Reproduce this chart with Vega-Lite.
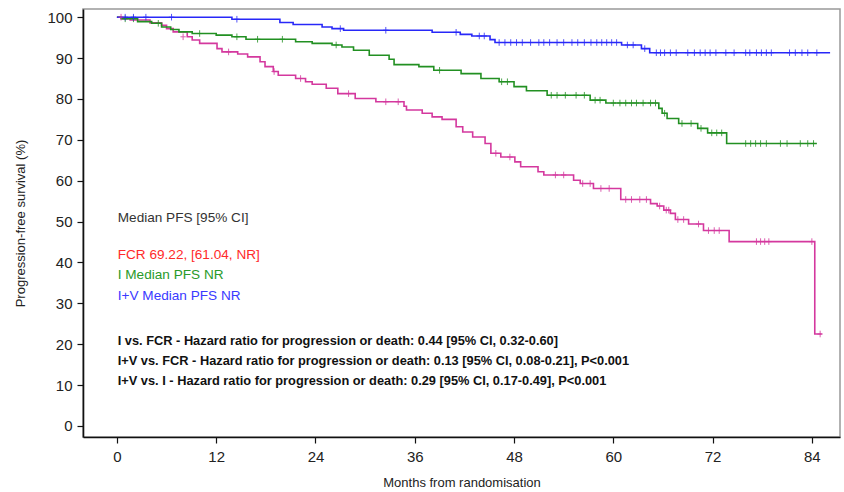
{
  "$schema": "https://vega.github.io/schema/vega-lite/v6.json",
  "width": 757,
  "height": 428,
  "autosize": {"type": "none"},
  "padding": {"left": 83, "top": 9, "right": 4, "bottom": 55},
  "config": {
    "font": "Liberation Sans",
    "view": {"stroke": "#999999", "strokeWidth": 1.5},
    "axis": {
      "domainColor": "#111111", "domainWidth": 1.6,
      "tickColor": "#111111", "tickWidth": 1.2, "tickSize": 6,
      "labelColor": "#222222", "labelFont": "Liberation Sans", "labelFontSize": 15,
      "titleFont": "Liberation Sans", "titleFontSize": 13, "titleFontWeight": "normal", "titleColor": "#222222",
      "grid": false
    }
  },
  "datasets": {
    "curves": [
      {"arm": "FCR", "month": 0, "pct": 100},
      {"arm": "FCR", "month": 0.6, "pct": 99.6},
      {"arm": "FCR", "month": 1.6, "pct": 99.3},
      {"arm": "FCR", "month": 4.0, "pct": 98.6},
      {"arm": "FCR", "month": 5.4, "pct": 98.0},
      {"arm": "FCR", "month": 6.0, "pct": 97.2},
      {"arm": "FCR", "month": 6.8, "pct": 96.4},
      {"arm": "FCR", "month": 8.5, "pct": 95.2},
      {"arm": "FCR", "month": 9.1, "pct": 94.4},
      {"arm": "FCR", "month": 10.0, "pct": 93.6},
      {"arm": "FCR", "month": 12.1, "pct": 92.3},
      {"arm": "FCR", "month": 12.7, "pct": 91.5},
      {"arm": "FCR", "month": 14.6, "pct": 91.0},
      {"arm": "FCR", "month": 15.8, "pct": 90.3},
      {"arm": "FCR", "month": 17.3, "pct": 89.1},
      {"arm": "FCR", "month": 17.9, "pct": 87.9},
      {"arm": "FCR", "month": 18.9, "pct": 86.7},
      {"arm": "FCR", "month": 19.5, "pct": 85.8},
      {"arm": "FCR", "month": 21.6, "pct": 85.0},
      {"arm": "FCR", "month": 22.8, "pct": 84.2},
      {"arm": "FCR", "month": 23.6, "pct": 83.6},
      {"arm": "FCR", "month": 25.3, "pct": 82.6},
      {"arm": "FCR", "month": 26.7, "pct": 81.3},
      {"arm": "FCR", "month": 28.8, "pct": 80.1},
      {"arm": "FCR", "month": 31.3, "pct": 79.3},
      {"arm": "FCR", "month": 34.7, "pct": 78.2},
      {"arm": "FCR", "month": 35.0, "pct": 77.3},
      {"arm": "FCR", "month": 36.9, "pct": 76.5},
      {"arm": "FCR", "month": 38.1, "pct": 75.6},
      {"arm": "FCR", "month": 39.3, "pct": 75.0},
      {"arm": "FCR", "month": 41.0, "pct": 73.2},
      {"arm": "FCR", "month": 41.8, "pct": 71.9},
      {"arm": "FCR", "month": 43.0, "pct": 70.7},
      {"arm": "FCR", "month": 44.5, "pct": 69.1},
      {"arm": "FCR", "month": 45.2, "pct": 66.7},
      {"arm": "FCR", "month": 46.4, "pct": 65.8},
      {"arm": "FCR", "month": 48.1, "pct": 64.6},
      {"arm": "FCR", "month": 48.8, "pct": 63.4},
      {"arm": "FCR", "month": 50.9, "pct": 62.2},
      {"arm": "FCR", "month": 51.6, "pct": 61.4},
      {"arm": "FCR", "month": 55.2, "pct": 60.1},
      {"arm": "FCR", "month": 56.0, "pct": 59.3},
      {"arm": "FCR", "month": 57.6, "pct": 58.1},
      {"arm": "FCR", "month": 60.9, "pct": 55.4},
      {"arm": "FCR", "month": 64.5, "pct": 54.4},
      {"arm": "FCR", "month": 65.3, "pct": 53.8},
      {"arm": "FCR", "month": 66.1, "pct": 52.8},
      {"arm": "FCR", "month": 66.9, "pct": 52.0},
      {"arm": "FCR", "month": 67.5, "pct": 50.5},
      {"arm": "FCR", "month": 69.1, "pct": 49.4},
      {"arm": "FCR", "month": 70.9, "pct": 47.8},
      {"arm": "FCR", "month": 74.0, "pct": 45.1},
      {"arm": "FCR", "month": 84.35, "pct": 22.5},
      {"arm": "FCR", "month": 85.2, "pct": 22.5},
      {"arm": "I", "month": 0, "pct": 100},
      {"arm": "I", "month": 0.5, "pct": 99.6},
      {"arm": "I", "month": 2.5, "pct": 98.9},
      {"arm": "I", "month": 4.2, "pct": 98.5},
      {"arm": "I", "month": 5.4, "pct": 97.6},
      {"arm": "I", "month": 6.5, "pct": 97.0},
      {"arm": "I", "month": 7.5, "pct": 96.4},
      {"arm": "I", "month": 9.1, "pct": 96.0},
      {"arm": "I", "month": 12.0, "pct": 95.6},
      {"arm": "I", "month": 13.9, "pct": 95.2},
      {"arm": "I", "month": 15.6, "pct": 94.6},
      {"arm": "I", "month": 21.6, "pct": 94.0},
      {"arm": "I", "month": 23.6, "pct": 93.6},
      {"arm": "I", "month": 26.0, "pct": 93.2},
      {"arm": "I", "month": 27.2, "pct": 92.7},
      {"arm": "I", "month": 28.6, "pct": 91.9},
      {"arm": "I", "month": 30.5, "pct": 90.7},
      {"arm": "I", "month": 32.9, "pct": 89.7},
      {"arm": "I", "month": 33.5, "pct": 88.4},
      {"arm": "I", "month": 36.5, "pct": 87.9},
      {"arm": "I", "month": 38.3, "pct": 87.0},
      {"arm": "I", "month": 41.6, "pct": 86.2},
      {"arm": "I", "month": 44.0, "pct": 85.0},
      {"arm": "I", "month": 46.2, "pct": 84.2},
      {"arm": "I", "month": 48.0, "pct": 83.0},
      {"arm": "I", "month": 49.5, "pct": 82.0},
      {"arm": "I", "month": 52.0, "pct": 80.9},
      {"arm": "I", "month": 57.2, "pct": 79.7},
      {"arm": "I", "month": 59.1, "pct": 79.0},
      {"arm": "I", "month": 65.5, "pct": 77.7},
      {"arm": "I", "month": 65.9, "pct": 76.5},
      {"arm": "I", "month": 66.5, "pct": 75.2},
      {"arm": "I", "month": 67.9, "pct": 74.0},
      {"arm": "I", "month": 70.2, "pct": 72.8},
      {"arm": "I", "month": 71.4, "pct": 71.7},
      {"arm": "I", "month": 73.7, "pct": 69.1},
      {"arm": "I", "month": 84.6, "pct": 69.1},
      {"arm": "I+V", "month": 0, "pct": 100},
      {"arm": "I+V", "month": 13.9, "pct": 99.5},
      {"arm": "I+V", "month": 19.7, "pct": 98.7},
      {"arm": "I+V", "month": 21.3, "pct": 98.2},
      {"arm": "I+V", "month": 24.8, "pct": 97.6},
      {"arm": "I+V", "month": 26.0, "pct": 97.2},
      {"arm": "I+V", "month": 27.4, "pct": 96.8},
      {"arm": "I+V", "month": 38.1, "pct": 96.3},
      {"arm": "I+V", "month": 41.5, "pct": 95.8},
      {"arm": "I+V", "month": 42.9, "pct": 95.4},
      {"arm": "I+V", "month": 45.1, "pct": 94.5},
      {"arm": "I+V", "month": 45.7, "pct": 93.8},
      {"arm": "I+V", "month": 61.0, "pct": 93.2},
      {"arm": "I+V", "month": 63.4, "pct": 92.3},
      {"arm": "I+V", "month": 64.4, "pct": 91.3},
      {"arm": "I+V", "month": 86.2, "pct": 91.3}
    ],
    "censor": [
      {"arm": "FCR", "month": 0.5, "pct": 100},
      {"arm": "FCR", "month": 8.0, "pct": 95.2},
      {"arm": "FCR", "month": 13.5, "pct": 91.5},
      {"arm": "FCR", "month": 19.0, "pct": 86.7},
      {"arm": "FCR", "month": 22.2, "pct": 85.0},
      {"arm": "FCR", "month": 28.0, "pct": 81.3},
      {"arm": "FCR", "month": 32.5, "pct": 79.3},
      {"arm": "FCR", "month": 34.0, "pct": 79.3},
      {"arm": "FCR", "month": 45.8, "pct": 66.7},
      {"arm": "FCR", "month": 47.5, "pct": 65.8},
      {"arm": "FCR", "month": 53.0, "pct": 61.4},
      {"arm": "FCR", "month": 54.0, "pct": 61.4},
      {"arm": "FCR", "month": 56.3, "pct": 59.3},
      {"arm": "FCR", "month": 57.2, "pct": 59.3},
      {"arm": "FCR", "month": 58.5, "pct": 58.1},
      {"arm": "FCR", "month": 59.5, "pct": 58.1},
      {"arm": "FCR", "month": 61.5, "pct": 55.4},
      {"arm": "FCR", "month": 62.2, "pct": 55.4},
      {"arm": "FCR", "month": 63.2, "pct": 55.4},
      {"arm": "FCR", "month": 64.0, "pct": 55.4},
      {"arm": "FCR", "month": 65.6, "pct": 53.8},
      {"arm": "FCR", "month": 66.4, "pct": 52.8},
      {"arm": "FCR", "month": 66.7, "pct": 52.8},
      {"arm": "FCR", "month": 67.8, "pct": 50.5},
      {"arm": "FCR", "month": 68.5, "pct": 50.5},
      {"arm": "FCR", "month": 70.3, "pct": 49.4},
      {"arm": "FCR", "month": 71.5, "pct": 47.8},
      {"arm": "FCR", "month": 72.2, "pct": 47.8},
      {"arm": "FCR", "month": 72.8, "pct": 47.8},
      {"arm": "FCR", "month": 77.3, "pct": 45.1},
      {"arm": "FCR", "month": 77.8, "pct": 45.1},
      {"arm": "FCR", "month": 78.3, "pct": 45.1},
      {"arm": "FCR", "month": 78.8, "pct": 45.1},
      {"arm": "FCR", "month": 84.0, "pct": 45.1},
      {"arm": "FCR", "month": 85.0, "pct": 22.5},
      {"arm": "I", "month": 1.0, "pct": 99.6},
      {"arm": "I", "month": 2.0, "pct": 99.6},
      {"arm": "I", "month": 5.0, "pct": 98.5},
      {"arm": "I", "month": 10.0, "pct": 96.0},
      {"arm": "I", "month": 14.5, "pct": 95.2},
      {"arm": "I", "month": 17.0, "pct": 94.6},
      {"arm": "I", "month": 20.0, "pct": 94.6},
      {"arm": "I", "month": 26.5, "pct": 93.2},
      {"arm": "I", "month": 39.0, "pct": 87.0},
      {"arm": "I", "month": 46.5, "pct": 84.2},
      {"arm": "I", "month": 47.2, "pct": 84.2},
      {"arm": "I", "month": 52.5, "pct": 80.9},
      {"arm": "I", "month": 53.2, "pct": 80.9},
      {"arm": "I", "month": 54.2, "pct": 80.9},
      {"arm": "I", "month": 55.5, "pct": 80.9},
      {"arm": "I", "month": 56.5, "pct": 80.9},
      {"arm": "I", "month": 57.8, "pct": 79.7},
      {"arm": "I", "month": 58.4, "pct": 79.7},
      {"arm": "I", "month": 60.0, "pct": 79.0},
      {"arm": "I", "month": 60.8, "pct": 79.0},
      {"arm": "I", "month": 61.5, "pct": 79.0},
      {"arm": "I", "month": 62.2, "pct": 79.0},
      {"arm": "I", "month": 62.8, "pct": 79.0},
      {"arm": "I", "month": 63.6, "pct": 79.0},
      {"arm": "I", "month": 64.5, "pct": 79.0},
      {"arm": "I", "month": 65.1, "pct": 79.0},
      {"arm": "I", "month": 66.2, "pct": 76.5},
      {"arm": "I", "month": 68.3, "pct": 74.0},
      {"arm": "I", "month": 69.4, "pct": 74.0},
      {"arm": "I", "month": 70.6, "pct": 72.8},
      {"arm": "I", "month": 71.9, "pct": 71.7},
      {"arm": "I", "month": 72.5, "pct": 71.7},
      {"arm": "I", "month": 73.1, "pct": 71.7},
      {"arm": "I", "month": 76.0, "pct": 69.1},
      {"arm": "I", "month": 76.6, "pct": 69.1},
      {"arm": "I", "month": 77.2, "pct": 69.1},
      {"arm": "I", "month": 77.8, "pct": 69.1},
      {"arm": "I", "month": 78.5, "pct": 69.1},
      {"arm": "I", "month": 80.2, "pct": 69.1},
      {"arm": "I", "month": 81.0, "pct": 69.1},
      {"arm": "I", "month": 82.6, "pct": 69.1},
      {"arm": "I", "month": 83.5, "pct": 69.1},
      {"arm": "I", "month": 84.2, "pct": 69.1},
      {"arm": "I+V", "month": 1.0, "pct": 100},
      {"arm": "I+V", "month": 2.0, "pct": 100},
      {"arm": "I+V", "month": 3.5, "pct": 100},
      {"arm": "I+V", "month": 6.6, "pct": 100},
      {"arm": "I+V", "month": 14.5, "pct": 99.5},
      {"arm": "I+V", "month": 27.0, "pct": 97.2},
      {"arm": "I+V", "month": 32.5, "pct": 96.8},
      {"arm": "I+V", "month": 41.0, "pct": 96.3},
      {"arm": "I+V", "month": 43.8, "pct": 95.4},
      {"arm": "I+V", "month": 44.4, "pct": 95.4},
      {"arm": "I+V", "month": 46.2, "pct": 93.8},
      {"arm": "I+V", "month": 46.9, "pct": 93.8},
      {"arm": "I+V", "month": 47.6, "pct": 93.8},
      {"arm": "I+V", "month": 48.3, "pct": 93.8},
      {"arm": "I+V", "month": 49.0, "pct": 93.8},
      {"arm": "I+V", "month": 50.0, "pct": 93.8},
      {"arm": "I+V", "month": 51.0, "pct": 93.8},
      {"arm": "I+V", "month": 51.6, "pct": 93.8},
      {"arm": "I+V", "month": 52.3, "pct": 93.8},
      {"arm": "I+V", "month": 53.2, "pct": 93.8},
      {"arm": "I+V", "month": 54.0, "pct": 93.8},
      {"arm": "I+V", "month": 55.0, "pct": 93.8},
      {"arm": "I+V", "month": 55.7, "pct": 93.8},
      {"arm": "I+V", "month": 56.5, "pct": 93.8},
      {"arm": "I+V", "month": 57.3, "pct": 93.8},
      {"arm": "I+V", "month": 58.0, "pct": 93.8},
      {"arm": "I+V", "month": 58.6, "pct": 93.8},
      {"arm": "I+V", "month": 59.2, "pct": 93.8},
      {"arm": "I+V", "month": 59.8, "pct": 93.8},
      {"arm": "I+V", "month": 60.4, "pct": 93.8},
      {"arm": "I+V", "month": 61.7, "pct": 93.2},
      {"arm": "I+V", "month": 62.4, "pct": 93.2},
      {"arm": "I+V", "month": 63.8, "pct": 92.3},
      {"arm": "I+V", "month": 65.2, "pct": 91.3},
      {"arm": "I+V", "month": 65.7, "pct": 91.3},
      {"arm": "I+V", "month": 66.2, "pct": 91.3},
      {"arm": "I+V", "month": 66.9, "pct": 91.3},
      {"arm": "I+V", "month": 67.6, "pct": 91.3},
      {"arm": "I+V", "month": 69.0, "pct": 91.3},
      {"arm": "I+V", "month": 69.8, "pct": 91.3},
      {"arm": "I+V", "month": 70.5, "pct": 91.3},
      {"arm": "I+V", "month": 71.1, "pct": 91.3},
      {"arm": "I+V", "month": 71.7, "pct": 91.3},
      {"arm": "I+V", "month": 72.4, "pct": 91.3},
      {"arm": "I+V", "month": 73.6, "pct": 91.3},
      {"arm": "I+V", "month": 74.6, "pct": 91.3},
      {"arm": "I+V", "month": 76.0, "pct": 91.3},
      {"arm": "I+V", "month": 76.5, "pct": 91.3},
      {"arm": "I+V", "month": 77.3, "pct": 91.3},
      {"arm": "I+V", "month": 77.9, "pct": 91.3},
      {"arm": "I+V", "month": 78.5, "pct": 91.3},
      {"arm": "I+V", "month": 79.1, "pct": 91.3},
      {"arm": "I+V", "month": 81.3, "pct": 91.3},
      {"arm": "I+V", "month": 82.0, "pct": 91.3},
      {"arm": "I+V", "month": 82.8, "pct": 91.3},
      {"arm": "I+V", "month": 83.5, "pct": 91.3},
      {"arm": "I+V", "month": 84.6, "pct": 91.3}
    ],
    "notes": [
      {"kind": "header", "month": 0.1, "pct": 50.9, "label": "Median PFS [95% CI]"},
      {"kind": "FCR", "month": 0.1, "pct": 41.8, "label": "FCR 69.22, [61.04, NR]"},
      {"kind": "I", "month": 0.1, "pct": 36.9, "label": "I Median PFS NR"},
      {"kind": "I+V", "month": 0.1, "pct": 31.8, "label": "I+V Median PFS NR"}
    ],
    "hr": [
      {"month": 0.1, "pct": 20.8, "label": "I vs. FCR - Hazard ratio for progression or death: 0.44 [95% CI, 0.32-0.60]"},
      {"month": 0.1, "pct": 15.9, "label": "I+V vs. FCR - Hazard ratio for progression or death: 0.13 [95% CI, 0.08-0.21], P<0.001"},
      {"month": 0.1, "pct": 11.0, "label": "I+V vs. I - Hazard ratio for progression or death: 0.29 [95% CI, 0.17-0.49], P<0.001"}
    ]
  },
  "encoding": {
    "x": {
      "field": "month", "type": "quantitative",
      "scale": {"domain": [-4.1, 87.4], "nice": false, "zero": false},
      "axis": {"values": [0, 12, 24, 36, 48, 60, 72, 84], "title": "Months from randomisation", "labelPadding": 6, "titlePadding": 12}
    },
    "y": {
      "field": "pct", "type": "quantitative",
      "scale": {"domain": [-2.7, 102], "nice": false, "zero": false},
      "axis": {"values": [0, 10, 20, 30, 40, 50, 60, 70, 80, 90, 100], "title": "Progression-free survival (%)", "labelPadding": 5, "titlePadding": 19}
    }
  },
  "layer": [
    {
      "data": {"name": "curves"},
      "mark": {"type": "line", "interpolate": "step-after", "strokeWidth": 1.6},
      "encoding": {
        "color": {"field": "arm", "type": "nominal", "legend": null,
          "scale": {"domain": ["FCR", "I", "I+V"], "range": ["#d4389e", "#229022", "#2828f8"]}},
        "detail": {"field": "arm"}
      }
    },
    {
      "data": {"name": "censor"},
      "mark": {"type": "point", "shape": "M0,-1.1L0,1.1M-0.9,0L0.9,0", "filled": false, "size": 36, "strokeWidth": 1, "opacity": 0.8},
      "encoding": {
        "color": {"field": "arm", "type": "nominal", "legend": null,
          "scale": {"domain": ["FCR", "I", "I+V"], "range": ["#d4389e", "#229022", "#2828f8"]}}
      }
    },
    {
      "data": {"name": "notes"},
      "mark": {"type": "text", "align": "left", "baseline": "middle", "fontSize": 13.6, "font": "Liberation Sans"},
      "encoding": {
        "text": {"field": "label"},
        "color": {"field": "kind", "type": "nominal", "legend": null,
          "scale": {"domain": ["header", "FCR", "I", "I+V"], "range": ["#333333", "#ff2a2a", "#2a9a2a", "#3a3aff"]}}
      }
    },
    {
      "data": {"name": "hr"},
      "mark": {"type": "text", "align": "left", "baseline": "middle", "fontSize": 12.8, "fontWeight": "bold", "font": "Liberation Sans", "color": "#111111"},
      "encoding": {"text": {"field": "label"}}
    }
  ],
  "resolve": {"scale": {"color": "independent"}}
}
